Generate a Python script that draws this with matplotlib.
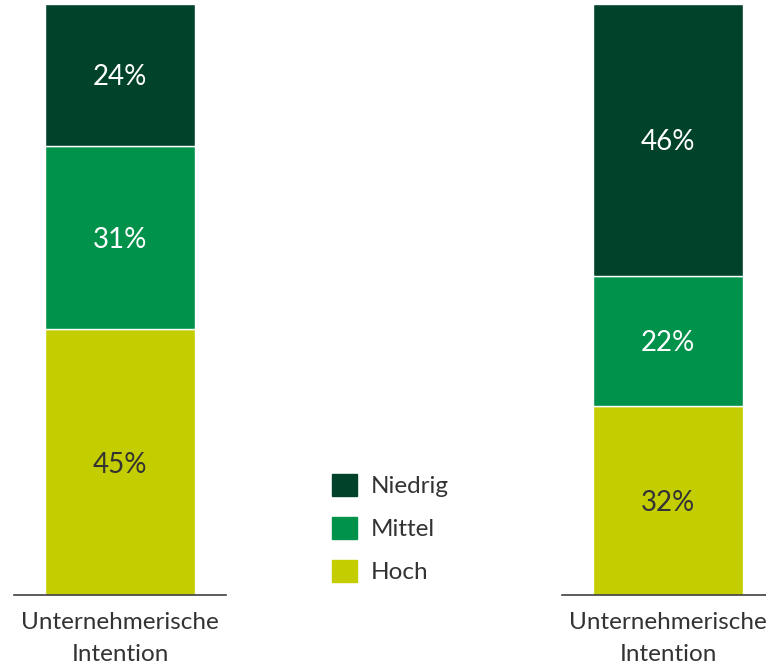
import matplotlib.pyplot as plt
from matplotlib.patches import Patch

# data
categories = ['Hoch', 'Mittel', 'Niedrig']
left_vals = [45, 31, 24]
right_vals = [32, 22, 46]
bar_label = 'Unternehmerische\nIntention'
colors = ['#C3CD00', '#00924A', '#00432A']
text_colors = ['#333333', 'white', 'white']

plt.rcParams['font.family'] = ['Lato', 'DejaVu Sans']

fig = plt.figure(figsize=(7.66, 6.64), dpi=100)
W, H = 766, 664

def draw(ax, vals):
    bottom = 0
    for v, c, tc in zip(vals, colors, text_colors):
        ax.bar(0, v, bottom=bottom, width=150 / 212, color=c, edgecolor='white', linewidth=1)
        ax.text(0, bottom + v / 2, f'{v}%', ha='center', va='center_baseline', color=tc, fontsize=20)
        bottom += v
    ax.set_xlim(-0.5, 0.5)
    ax.set_ylim(0, 100)
    for s in ['top', 'right', 'left']:
        ax.spines[s].set_visible(False)
    ax.spines['bottom'].set_color('#404040')
    ax.spines['bottom'].set_linewidth(1.2)
    ax.set_yticks([])
    ax.set_xticks([0])
    ax.set_xticklabels([bar_label], fontsize=17.5, color='#333333', linespacing=1.65)
    ax.tick_params(axis='x', length=0, pad=12)

ax1 = fig.add_axes([14 / W, 69 / H, 212 / W, 591 / H])
draw(ax1, left_vals)
ax2 = fig.add_axes([562 / W, 69 / H, 212 / W, 591 / H])
draw(ax2, right_vals)

handles = [Patch(color=c) for c in colors[::-1]]
fig.legend(handles, categories[::-1], loc='upper left', bbox_to_anchor=(310 / W, 1 - 452 / H),
           frameon=False, fontsize=17.5, handlelength=1.05, handleheight=1.05,
           labelspacing=0.8, handletextpad=0.55, labelcolor='#333333')

fig.savefig('out.png', dpi=100)
